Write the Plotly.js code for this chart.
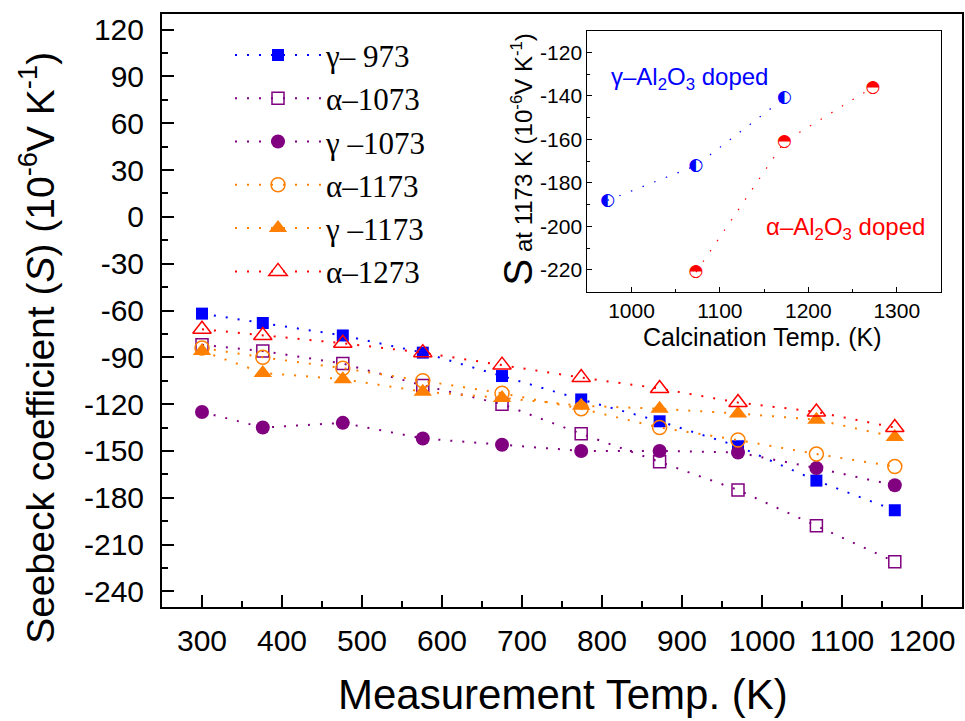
<!DOCTYPE html>
<html>
<head>
<meta charset="utf-8">
<script src="https://cdn.plot.ly/plotly-3.0.1.min.js"></script>
<style>html,body{margin:0;padding:0;background:#fff;}#chart{width:965px;height:721px;}</style>
</head>
<body>
<div id="chart"></div>
<script>
// ---- data ----
var temps = [300, 376, 476, 576, 675, 774, 872, 970, 1068, 1166];
var gamma973  = [-62, -68, -76, -87, -102, -117, -131, -147, -169, -188];
var alpha1073 = [-82, -86, -94, -108, -120, -139, -157, -175, -198, -221];
var gamma1073 = [-125, -135, -132, -142, -146, -150, -150, -151, -161, -172];
var alpha1173 = [-84, -90, -97, -105, -113, -123, -135, -143, -152, -160];
var gamma1173 = [-86, -100, -104, -112, -116, -121, -123, -126, -130, -141];
var alpha1273 = [-72, -76, -81, -87, -95, -103, -110, -119, -125, -135];
var seriesNames = ['\u03b3\u2013 973', '\u03b1\u20131073', '\u03b3 \u20131073', '\u03b1\u20131173', '\u03b3 \u20131173', '\u03b1\u20131273'];

var calcGamma = [973, 1073, 1173];
var sGamma = [-188, -172, -141];
var calcAlpha = [1073, 1173, 1273];
var sAlpha = [-221, -161, -136];

var xTickVals = [300, 400, 500, 600, 700, 800, 900, 1000, 1100, 1200];
var xTickText = ['300', '400', '500', '600', '700', '800', '900', '1000', '1100', '1200'];
var yTickVals = [-240, -210, -180, -150, -120, -90, -60, -30, 0, 30, 60, 90, 120];
var yTickText = ['-240', '-210', '-180', '-150', '-120', '-90', '-60', '-30', '0', '30', '60', '90', '120'];
var x2TickVals = [1000, 1100, 1200, 1300];
var x2TickText = ['1000', '1100', '1200', '1300'];
var y2TickVals = [-220, -200, -180, -160, -140, -120];
var y2TickText = ['-220', '-200', '-180', '-160', '-140', '-120'];

// ---- styles ----
var BLUE = '#0000FF', PURPLE = '#800080', ORANGE = '#FF8000', RED = '#FF0000';
var SANS = 'Liberation Sans, Arial, sans-serif';
var SERIF = 'Liberation Serif, Times New Roman, serif';
var dotDash = '2px,10px';

function series(y, name, color, symbol, size, lw) {
  return {
    type: 'scatter', mode: 'lines+markers', x: temps, y: y, name: name,
    xaxis: 'x', yaxis: 'y',
    line: {color: color, width: 2, dash: dotDash},
    marker: {symbol: symbol, size: size, color: color, line: {color: color, width: lw}}
  };
}

var data = [
  series(gamma973, seriesNames[0], BLUE, 'square', 12, 0),
  series(alpha1073, seriesNames[1], PURPLE, 'square-open', 12, 1.5),
  series(gamma1073, seriesNames[2], PURPLE, 'circle', 14, 0),
  series(alpha1173, seriesNames[3], ORANGE, 'circle-open', 14, 1.5),
  series(gamma1173, seriesNames[4], ORANGE, 'triangle-up', 16, 0),
  series(alpha1273, seriesNames[5], RED, 'triangle-up-open', 16, 1.5),
  {type: 'scatter', mode: 'lines', x: calcGamma, y: sGamma, xaxis: 'x2', yaxis: 'y2', showlegend: false,
   line: {color: BLUE, width: 1.2, dash: '1.5px,11px'}},
  {type: 'scatter', mode: 'lines', x: calcAlpha, y: sAlpha, xaxis: 'x2', yaxis: 'y2', showlegend: false,
   line: {color: RED, width: 1.2, dash: '1.5px,11px'}},
  {type: 'scatter', mode: 'text', x: calcGamma, y: sGamma, xaxis: 'x2', yaxis: 'y2', showlegend: false,
   text: ['\u25D0', '\u25D0', '\u25D0'], textposition: 'middle center',
   textfont: {family: 'DejaVu Sans', size: 17, color: BLUE}, hoverinfo: 'skip'},
  {type: 'scatter', mode: 'text', x: calcAlpha, y: sAlpha, xaxis: 'x2', yaxis: 'y2', showlegend: false,
   text: ['\u25D3', '\u25D3', '\u25D3'], textposition: 'middle center',
   textfont: {family: 'DejaVu Sans', size: 17, color: RED}, hoverinfo: 'skip'}
];

var layout = {
  width: 965, height: 721,
  margin: {l: 162, r: 3, t: 14, b: 114},
  paper_bgcolor: '#fff', plot_bgcolor: '#fff',
  font: {family: SANS, color: '#000'},
  showlegend: true,
  legend: {
    x: 0.085, y: 0.976, xanchor: 'left', yanchor: 'top',
    bgcolor: 'rgba(0,0,0,0)', borderwidth: 0,
    font: {family: SERIF, size: 31, color: '#000'},
    itemwidth: 86
  },
  xaxis: {
    domain: [0, 1], range: [250, 1250],
    tickmode: 'array', tickvals: xTickVals, ticktext: xTickText,
    ticks: 'inside', ticklen: 12, tickwidth: 2, tickcolor: '#000',
    minor: {tickmode: 'linear', tick0: 250, dtick: 50, ticks: 'inside', ticklen: 6, tickwidth: 2, tickcolor: '#000'},
    showline: true, linewidth: 2, linecolor: '#000', mirror: true,
    showgrid: false, zeroline: false,
    tickfont: {family: SANS, size: 30, color: '#000'},
    ticklabelstandoff: 6
  },
  yaxis: {
    domain: [0, 1], range: [-250, 130],
    tickmode: 'array', tickvals: yTickVals, ticktext: yTickText,
    ticks: 'inside', ticklen: 12, tickwidth: 2, tickcolor: '#000',
    minor: {tickmode: 'linear', tick0: 0, dtick: 15, ticks: 'inside', ticklen: 6, tickwidth: 2, tickcolor: '#000'},
    showline: true, linewidth: 2, linecolor: '#000', mirror: true,
    showgrid: false, zeroline: false,
    tickfont: {family: SANS, size: 30, color: '#000'},
    ticklabelstandoff: 10
  },
  xaxis2: {
    domain: [0.5316, 0.97375], anchor: 'y2', range: [950, 1350],
    tickmode: 'array', tickvals: x2TickVals, ticktext: x2TickText,
    ticks: 'inside', ticklen: 5, tickwidth: 1, tickcolor: '#000',
    minor: {tickmode: 'linear', tick0: 950, dtick: 50, ticks: 'inside', ticklen: 3, tickwidth: 1, tickcolor: '#000'},
    showline: true, linewidth: 1, linecolor: '#000', mirror: true,
    showgrid: false, zeroline: false,
    tickfont: {family: SANS, size: 21, color: '#000'}
  },
  yaxis2: {
    domain: [0.5317, 0.9718], anchor: 'x2', range: [-230, -110],
    tickmode: 'array', tickvals: y2TickVals, ticktext: y2TickText,
    ticks: 'inside', ticklen: 5, tickwidth: 1, tickcolor: '#000',
    minor: {tickmode: 'linear', tick0: -110, dtick: 10, ticks: 'inside', ticklen: 3, tickwidth: 1, tickcolor: '#000'},
    showline: true, linewidth: 1, linecolor: '#000', mirror: true,
    showgrid: false, zeroline: false,
    tickfont: {family: SANS, size: 21, color: '#000'}
  },
  annotations: [
    {text: 'Seebeck coefficient (<i>S</i>) (10<sup>-6</sup>V K<sup>-1</sup>)', xref: 'paper', yref: 'paper',
     x: -0.15625, y: 0.437, xanchor: 'center', yanchor: 'middle', textangle: -90, showarrow: false,
     font: {family: SANS, size: 39, color: '#000'}},
    {text: 'Measurement Temp. (K)', xref: 'paper', yref: 'paper',
     x: 0.501, y: -0.148, xanchor: 'center', yanchor: 'middle', showarrow: false,
     font: {family: SANS, size: 42, color: '#000'}},
    {text: 'Calcination Temp. (K)', xref: 'paper', yref: 'paper',
     x: 0.7506, y: 0.455, xanchor: 'center', yanchor: 'middle', showarrow: false,
     font: {family: SANS, size: 25, color: '#000'}},
    {text: '<span style="font-size:40px">S</span> at 1173 K (10<sup>-6</sup>V K<sup>-1</sup>)', xref: 'paper', yref: 'paper',
     x: 0.4455, y: 0.7555, xanchor: 'center', yanchor: 'middle', textangle: -90, showarrow: false,
     font: {family: SANS, size: 24, color: '#000'}},
    {text: '\u03b3\u2013Al<sub>2</sub>O<sub>3</sub> doped', xref: 'paper', yref: 'paper',
     x: 0.6588, y: 0.892, xanchor: 'center', yanchor: 'middle', showarrow: false,
     font: {family: SANS, size: 24, color: BLUE}},
    {text: '\u03b1\u2013Al<sub>2</sub>O<sub>3</sub> doped', xref: 'paper', yref: 'paper',
     x: 0.8544, y: 0.639, xanchor: 'center', yanchor: 'middle', showarrow: false,
     font: {family: SANS, size: 24, color: RED}}
  ]
};

Plotly.newPlot('chart', data, layout, {displayModeBar: false, staticPlot: true});
</script>
</body>
</html>
